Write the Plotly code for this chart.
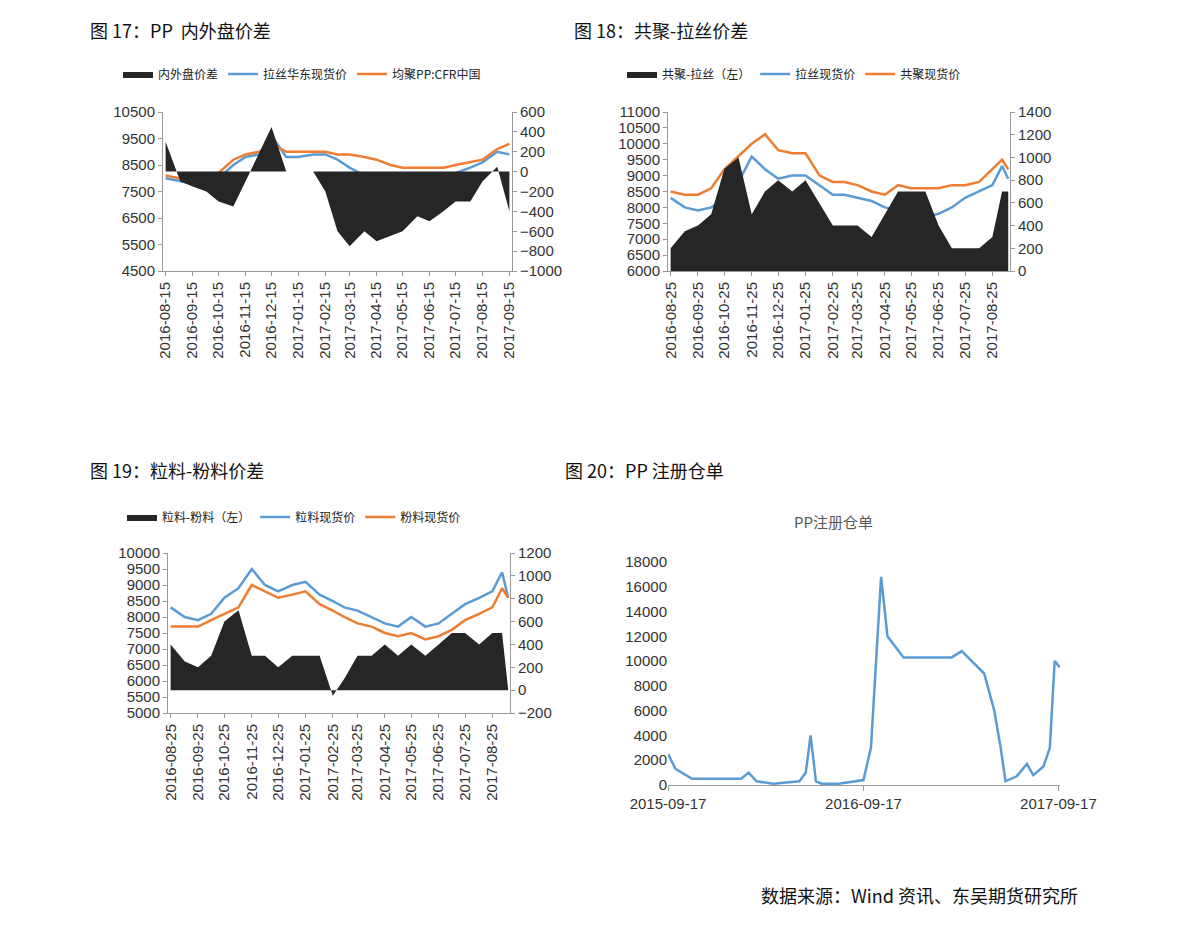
import plotly.graph_objects as go
import pandas as pd

# ---------- data ----------
d1 = ["2016-08-15","2016-09-01","2016-09-15","2016-10-01","2016-10-15","2016-11-01","2016-11-15","2016-12-01","2016-12-15",
      "2017-01-01","2017-01-15","2017-02-01","2017-02-15","2017-03-01","2017-03-15","2017-04-01","2017-04-15","2017-05-01",
      "2017-05-15","2017-06-01","2017-06-15","2017-07-01","2017-07-15","2017-08-01","2017-08-15","2017-09-01","2017-09-15"]
p1_blue = [8000,7900,7800,7900,8000,8500,8800,8900,9600,8800,8800,8900,8900,8700,8400,8100,8000,7800,7700,7900,8000,8000,8200,8400,8600,9000,8900]
p1_orange = [8100,8000,7900,8000,8200,8700,8900,9000,9300,9000,9000,9000,9000,8900,8900,8800,8700,8500,8400,8400,8400,8400,8500,8600,8700,9100,9300]
p1_spread = [300,-100,-150,-200,-300,-350,-100,200,450,0,0,0,-200,-600,-750,-600,-700,-650,-600,-450,-500,-400,-300,-300,-100,50,-400]

d2 = ["2016-08-25","2016-09-10","2016-09-25","2016-10-10","2016-10-25","2016-11-10","2016-11-25","2016-12-10","2016-12-25",
      "2017-01-10","2017-01-25","2017-02-10","2017-02-25","2017-03-10","2017-03-25","2017-04-10","2017-04-25","2017-05-10",
      "2017-05-25","2017-06-10","2017-06-25","2017-07-10","2017-07-25","2017-08-10","2017-08-25","2017-09-05","2017-09-12"]
p2_blue = [8300,8000,7900,8000,8300,8800,9600,9200,8900,9000,9000,8700,8400,8400,8300,8200,8000,7900,7800,7700,7800,8000,8300,8500,8700,9300,8900]
p2_orange = [8500,8400,8400,8600,9200,9600,10000,10300,9800,9700,9700,9000,8800,8800,8700,8500,8400,8700,8600,8600,8600,8700,8700,8800,9200,9500,9200]
p2_spread = [200,350,400,500,900,1000,500,700,800,700,800,600,400,400,400,300,500,700,700,700,400,200,200,200,300,700,700]

p3_blue = [8300,8000,7900,8100,8600,8900,9500,9000,8800,9000,9100,8700,8500,8300,8200,8000,7800,7700,8000,7700,7800,8100,8400,8600,8800,9400,8600]
p3_orange = [7700,7700,7700,7900,8100,8300,9000,8800,8600,8700,8800,8400,8200,8000,7800,7700,7500,7400,7500,7300,7400,7600,7900,8100,8300,8900,8600]
p3_spread = [400,250,200,300,600,700,300,300,200,300,300,300,-50,100,300,300,400,300,400,300,400,500,500,400,500,500,0]

d4 = ["2015-09-17","2015-10-01","2015-11-01","2015-12-01","2016-01-01","2016-02-01","2016-02-15","2016-03-01","2016-04-01",
      "2016-05-01","2016-05-20","2016-06-01","2016-06-10","2016-06-20","2016-07-01","2016-08-01","2016-09-01","2016-09-17",
      "2016-10-01","2016-10-15","2016-10-20","2016-11-01","2016-12-01","2017-01-01","2017-02-01","2017-03-01","2017-03-20",
      "2017-04-01","2017-05-01","2017-05-20","2017-06-01","2017-06-10","2017-07-01","2017-07-20","2017-08-01","2017-08-20",
      "2017-09-01","2017-09-10","2017-09-20"]
p4_val = [2500,1300,500,500,500,500,1000,300,100,200,300,1000,4000,300,100,100,300,400,
          3000,13000,16800,12000,10300,10300,10300,10300,10800,10300,9000,6000,3000,300,700,1700,800,1500,
          3000,10000,9500]

BLUE = "#5B9BD5"; ORANGE = "#ED7D31"; DARK = "#262626"
FONT = "Liberation Sans, Arial, Noto Sans CJK SC"
CJK = "Noto Sans CJK SC"

fig = go.Figure()
fig.add_trace(go.Scatter(x=d1, y=p1_spread, xaxis="x", yaxis="y2", fill="tozeroy", mode="lines",
                         line=dict(width=0), fillcolor=DARK, name="内外盘价差", legend="legend"))
fig.add_trace(go.Scatter(x=d1, y=p1_blue, xaxis="x", yaxis="y", mode="lines", line=dict(color=BLUE, width=2.5),
                         name="拉丝华东现货价", legend="legend"))
fig.add_trace(go.Scatter(x=d1, y=p1_orange, xaxis="x", yaxis="y", mode="lines", line=dict(color=ORANGE, width=2.5),
                         name="均聚PP:CFR中国", legend="legend"))
fig.add_trace(go.Scatter(x=d2, y=p2_spread, xaxis="x2", yaxis="y4", fill="tozeroy", mode="lines",
                         line=dict(width=0), fillcolor=DARK, name="共聚-拉丝（左）", legend="legend2"))
fig.add_trace(go.Scatter(x=d2, y=p2_blue, xaxis="x2", yaxis="y3", mode="lines", line=dict(color=BLUE, width=2.5),
                         name="拉丝现货价", legend="legend2"))
fig.add_trace(go.Scatter(x=d2, y=p2_orange, xaxis="x2", yaxis="y3", mode="lines", line=dict(color=ORANGE, width=2.5),
                         name="共聚现货价", legend="legend2"))
fig.add_trace(go.Scatter(x=d2, y=p3_spread, xaxis="x3", yaxis="y6", fill="tozeroy", mode="lines",
                         line=dict(width=0), fillcolor=DARK, name="粒料-粉料（左）", legend="legend3"))
fig.add_trace(go.Scatter(x=d2, y=p3_blue, xaxis="x3", yaxis="y5", mode="lines", line=dict(color=BLUE, width=2.5),
                         name="粒料现货价", legend="legend3"))
fig.add_trace(go.Scatter(x=d2, y=p3_orange, xaxis="x3", yaxis="y5", mode="lines", line=dict(color=ORANGE, width=2.5),
                         name="粉料现货价", legend="legend3"))
fig.add_trace(go.Scatter(x=d4, y=p4_val, xaxis="x4", yaxis="y7", mode="lines", line=dict(color=BLUE, width=2.5),
                         showlegend=False))

OFF = 8
W, H = 1191 - 2 * OFF, 928 - 2 * OFF
def fx(a): return (a - OFF) / W
def fy(b): return 1 - (b - OFF) / H
def px(a, b): return [fx(a), fx(b)]
def py(top, bot): return [fy(bot), fy(top)]

tf = dict(family=FONT, size=15, color="#333")
axline = dict(showline=True, linecolor="#999", showgrid=False, zeroline=False, ticks="outside", automargin=False,
              ticklen=4, tickcolor="#999", tickfont=tf)
yax = dict(axline, tickformat="d")
m1 = pd.date_range("2016-08-01", "2017-09-01", freq="MS") + pd.Timedelta(days=14)
m2 = pd.date_range("2016-08-01", "2017-08-01", freq="MS") + pd.Timedelta(days=24)

xdate = dict(axline, tickangle=-90, tickformat="%Y-%m-%d")
fig.update_layout(
    width=W, height=H, autosize=False, margin=dict(l=0, r=0, t=0, b=0, autoexpand=False),
    paper_bgcolor="white", plot_bgcolor="white", font=dict(family=FONT),
    xaxis=dict(xdate, domain=px(163, 512), anchor="y", tickvals=list(m1), range=["2016-08-12", "2017-09-18"]),
    yaxis=dict(yax, domain=py(112, 271), anchor="x", range=[4500, 10500], dtick=1000, tick0=4500),
    yaxis2=dict(yax, overlaying="y", side="right", anchor="x", range=[-1000, 600], dtick=200),
    xaxis2=dict(xdate, domain=px(668, 1010), anchor="y3", tickvals=list(m2), range=["2016-08-22", "2017-09-14"]),
    yaxis3=dict(yax, domain=py(112, 271), anchor="x2", range=[6000, 11000], dtick=500),
    yaxis4=dict(yax, overlaying="y3", side="right", anchor="x2", range=[0, 1400], dtick=200),
    xaxis3=dict(xdate, domain=px(168, 510), anchor="y5", tickvals=list(m2), range=["2016-08-22", "2017-09-14"]),
    yaxis5=dict(yax, domain=py(553, 713), anchor="x3", range=[5000, 10000], dtick=500),
    yaxis6=dict(yax, overlaying="y5", side="right", anchor="x3", range=[-200, 1200], dtick=200),
    xaxis4=dict(axline, domain=px(668, 1060), anchor="y7", range=["2015-09-17", "2017-09-20"],
                tickvals=["2015-09-17", "2016-09-17", "2017-09-17"], tickformat="%Y-%m-%d", ticklen=5),
    yaxis7=dict(showline=False, showgrid=False, zeroline=False, tickfont=tf, domain=py(562, 785), anchor="x4",
                range=[0, 18000], dtick=2000, tickformat="d", automargin=False),
)
lg = dict(orientation="h", font=dict(family=CJK, size=12, color="#222"), bgcolor="rgba(0,0,0,0)",
          yanchor="middle", xanchor="left", itemwidth=30, tracegroupgap=0)
fig.update_layout(
    legend=dict(lg, x=fx(118), y=fy(74)),
    legend2=dict(lg, x=fx(622), y=fy(74)),
    legend3=dict(lg, x=fx(122), y=fy(517)),
)
ann = [
    ("图 17：PP  内外盘价差", 88, 30, "left", 18),
    ("图 18：共聚-拉丝价差", 572, 30, "left", 18),
    ("图 19：粒料-粉料价差", 88, 470, "left", 18),
    ("图 20：PP 注册仓单", 563, 470, "left", 18),
    ("PP注册仓单", 833, 521, "center", 15),
    ("数据来源：Wind 资讯、东吴期货研究所", 1080, 895, "right", 18),
]
for t, x, y, al, s in ann:
    fig.add_annotation(text=t, x=fx(x), y=fy(y), xref="paper", yref="paper", xanchor=al, yanchor="middle",
                       showarrow=False, font=dict(family=CJK, size=s, color="#595959" if s == 15 else "#111"))
fig.write_html("out.html")
